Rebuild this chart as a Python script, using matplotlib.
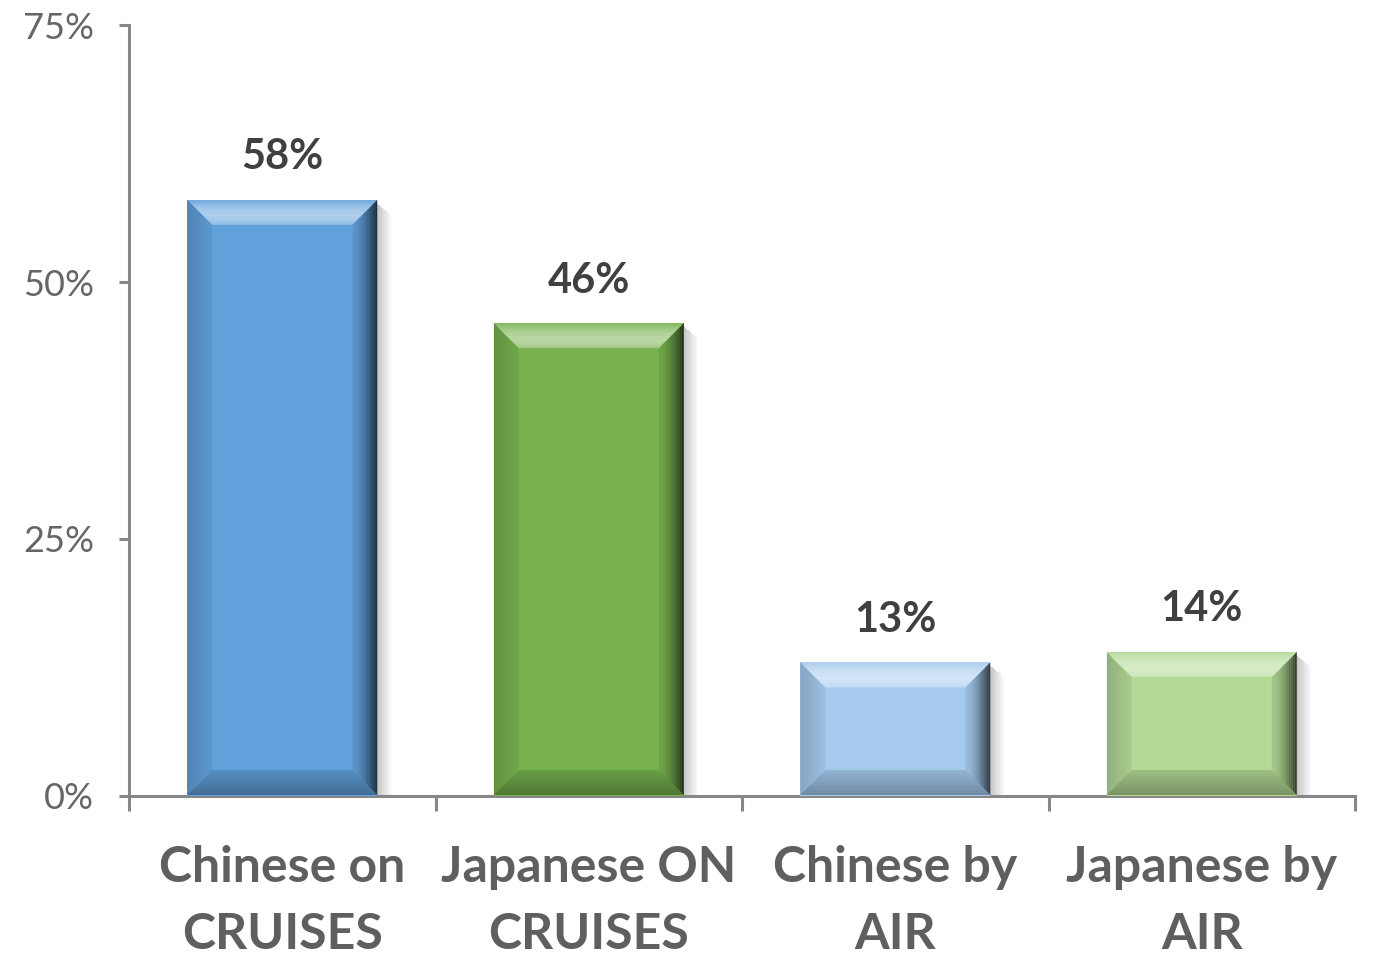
import numpy as np
import matplotlib.pyplot as plt
from matplotlib.patches import Polygon
from matplotlib.ticker import FixedLocator, FuncFormatter

categories = ["Chinese on\nCRUISES", "Japanese ON\nCRUISES", "Chinese by\nAIR", "Japanese by\nAIR"]
shares = [58, 46, 13, 14]
bar_colors = ["#62A2DC", "#77B24F", "#A6CBEF", "#B2D995"]
y_ticks = [0, 25, 50, 75]

plt.rcParams["font.family"] = ["Lato", "DejaVu Sans"]

fig = plt.figure(figsize=(13.74, 9.56), dpi=100)
ax = fig.add_axes([0.0939, 0.1674, 0.8923, 0.8064])

x = np.arange(len(categories))
bars = ax.bar(x, shares, width=0.62, color=bar_colors, zorder=3)

ax.set_xlim(-0.5, len(categories) - 0.5)
ax.set_ylim(0, 75)

axis_grey = "#878787"
for side in ("top", "right"):
    ax.spines[side].set_visible(False)
for side in ("left", "bottom"):
    ax.spines[side].set_color(axis_grey)
    ax.spines[side].set_linewidth(2.2)

ax.yaxis.set_major_locator(FixedLocator(y_ticks))
ax.yaxis.set_major_formatter(FuncFormatter(lambda v, _: f"{v:.0f}%"))
ax.tick_params(axis="y", length=7, width=2.2, color=axis_grey, pad=18,
               labelsize=26, labelcolor="#666666")

ax.set_xticks(x)
ax.set_xticklabels(categories, fontsize=36, fontweight="bold", color="#5f5f5f",
                   linespacing=1.6)
ax.tick_params(axis="x", which="major", length=0, pad=35)
ax.xaxis.set_minor_locator(FixedLocator(np.arange(len(categories) + 1) - 0.5))
ax.tick_params(axis="x", which="minor", length=11, width=2.2, color=axis_grey)

for rect, v in zip(bars, shares):
    ax.annotate(f"{v}%", (rect.get_x() + rect.get_width() / 2, v),
                xytext=(0, 17), textcoords="offset points", ha="center", va="bottom",
                fontsize=30, fontweight="bold", color="#404040")

# bevel and shadow, drawn in pixel space on top of each bar
fig.canvas.draw()
bev = 25
steps = 12
for rect in bars:
    (L, B), (R, T) = ax.transData.transform(
        [(rect.get_x(), 0), (rect.get_x() + rect.get_width(), rect.get_height())])
    B += 1
    # drop shadow on the right
    for i in range(steps):
        a = R + i * 1.2
        b = a + 1.2
        ax.add_patch(Polygon([(a, B), (b, B), (b, T - 4 - i), (a, T - 4 - i)],
                             closed=True, transform=None, facecolor="black",
                             alpha=0.22 * (1 - i / steps), lw=0, zorder=2))
    d = bev / steps
    for i in range(steps):
        t = i / (steps - 1)
        # right bevel: darkens toward the outer edge
        a, b = R - bev + i * d, R - bev + (i + 1) * d
        ax.add_patch(Polygon([(a, B + R - a), (b, B + R - b), (b, T - R + b), (a, T - R + a)],
                             closed=True, transform=None, facecolor="black",
                             alpha=0.08 + 0.62 * t ** 1.6, lw=0, zorder=4))
        # left bevel: slight shade
        a, b = L + i * d, L + (i + 1) * d
        ax.add_patch(Polygon([(a, B + a - L), (b, B + b - L), (b, T - b + L), (a, T - a + L)],
                             closed=True, transform=None, facecolor="black",
                             alpha=0.18 - 0.12 * t, lw=0, zorder=4))
        # top bevel: highlight strongest near the inner edge
        a, b = T - i * d, T - (i + 1) * d
        ax.add_patch(Polygon([(L + T - a, a), (R - T + a, a), (R - T + b, b), (L + T - b, b)],
                             closed=True, transform=None, facecolor="white",
                             alpha=0.12 + 0.38 * np.sin(np.pi * t * 0.8), lw=0, zorder=4.5))
        # bottom bevel: shadowed
        a, b = B + i * d, B + (i + 1) * d
        ax.add_patch(Polygon([(L + a - B, a), (R - a + B, a), (R - b + B, b), (L + b - B, b)],
                             closed=True, transform=None, facecolor="black",
                             alpha=0.32 - 0.2 * t, lw=0, zorder=4.5))

fig.savefig("out.png", dpi=100)
